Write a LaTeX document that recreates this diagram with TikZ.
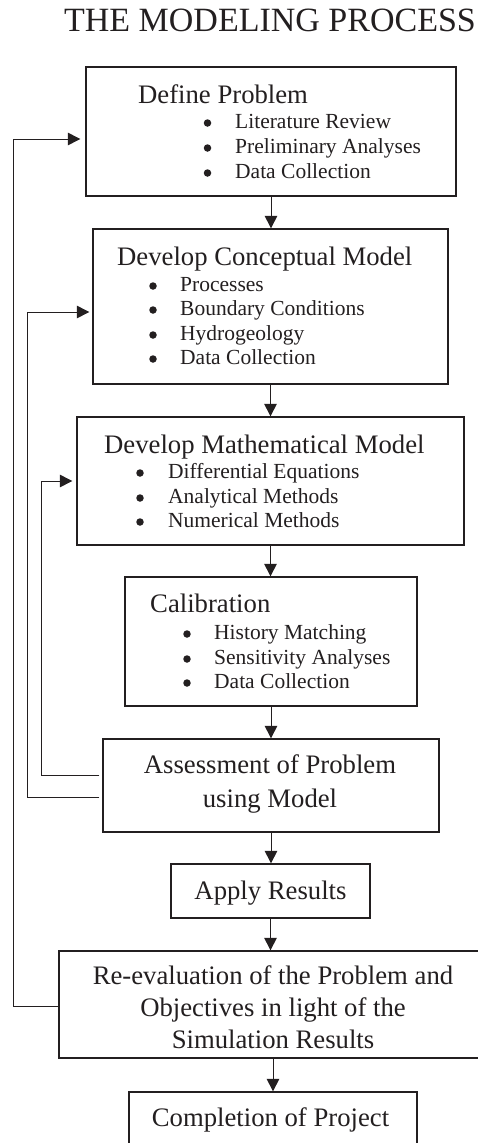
\documentclass[tikz,border=0pt]{standalone}
\usepackage{fontspec}
\setmainfont{Liberation Serif}
\usetikzlibrary{arrows.meta}
\definecolor{ink}{RGB}{35,31,32}
\begin{document}
\begin{tikzpicture}[x=1pt,y=-1pt,
  box/.style={draw=ink,line width=1.3pt,inner sep=0pt},
  conn/.style={draw=ink,line width=1pt},
  arr/.style={conn,-{Triangle[length=12.5pt,width=12.5pt]}},
  ttl/.style={font=\fontsize{34pt}{40pt}\selectfont,text=ink,inner sep=0pt,anchor=base},
  head/.style={font=\fontsize{26.7pt}{32pt}\selectfont,text=ink,inner sep=0pt,anchor=base west},
  headc/.style={font=\fontsize{26.7pt}{32pt}\selectfont,text=ink,inner sep=0pt,anchor=base},
  item/.style={font=\fontsize{21.5pt}{25pt}\selectfont,text=ink,inner sep=0pt,anchor=base west},
  bul/.style={circle,fill=ink,inner sep=0pt,minimum size=7.5pt,yshift=5pt}]
\useasboundingbox (0,0) rectangle (478,1143);
\clip (0,0) rectangle (478,1143);
\fill[white] (0,0) rectangle (478,1143);

\node[ttl] (title) at (270,31) {THE MODELING PROCESS};

% boxes
\node[box,minimum width=370pt,minimum height=129pt] (b1) at (271,131.5) {};
\node[box,minimum width=355pt,minimum height=155pt] (b2) at (270.5,306.5) {};
\node[box,minimum width=387pt,minimum height=128pt] (b3) at (270.5,481) {};
\node[box,minimum width=292pt,minimum height=129pt] (b4) at (271,641.5) {};
\node[box,minimum width=336pt,minimum height=93pt] (b5) at (271,785.5) {};
\node[box,minimum width=199pt,minimum height=54pt] (b6) at (270.5,891) {};
\node[box,minimum width=428pt,minimum height=107pt] (b7) at (273,1004.5) {};
\node[box,minimum width=288pt,minimum height=70pt] (b8) at (273,1127) {};

% box 1 text
\node[head] (h1) at (138,103) {Define Problem};
\node[bul] (d11) at (207.5,128) {};
\node[item] (t11) at (235,128) {Literature Review};
\node[bul] (d12) at (207.5,153) {};
\node[item] (t12) at (235,153) {Preliminary Analyses};
\node[bul] (d13) at (207.5,178) {};
\node[item] (t13) at (235,178) {Data Collection};

% box 2 text
\node[head] (h2) at (117,265) {Develop Conceptual Model};
\node[bul] (d21) at (153,291) {};
\node[item] (t21) at (180,291) {Processes};
\node[bul] (d22) at (153,315) {};
\node[item] (t22) at (180,315) {Boundary Conditions};
\node[bul] (d23) at (153,340) {};
\node[item] (t23) at (180,340) {Hydrogeology};
\node[bul] (d24) at (153,364) {};
\node[item] (t24) at (180,364) {Data Collection};

% box 3 text
\node[head] (h3) at (104,453) {Develop Mathematical Model};
\node[bul] (d31) at (140,478) {};
\node[item] (t31) at (168,478) {Differential Equations};
\node[bul] (d32) at (140,503) {};
\node[item] (t32) at (168,503) {Analytical Methods};
\node[bul] (d33) at (140,527) {};
\node[item] (t33) at (168,527) {Numerical Methods};

% box 4 text
\node[head] (h4) at (150,612) {Calibration};
\node[bul] (d41) at (187,639) {};
\node[item] (t41) at (214,639) {History Matching};
\node[bul] (d42) at (187,664) {};
\node[item] (t42) at (214,664) {Sensitivity Analyses};
\node[bul] (d43) at (187,688) {};
\node[item] (t43) at (214,688) {Data Collection};

% box 5-8 text
\node[headc] (t51) at (270,773) {Assessment of Problem};
\node[headc] (t52) at (270,807) {using Model};
\node[headc] (t6) at (270.5,899) {Apply Results};
\node[headc] (t71) at (273,984) {Re-evaluation of the Problem and};
\node[headc] (t72) at (273,1016) {Objectives in light of the};
\node[headc] (t73) at (273,1048) {Simulation Results};
\node[headc] (t8) at (270.5,1126) {Completion of Project};

% main flow arrows
\draw[arr] (b1.south) -- (b1.south |- b2.north);
\draw[arr] (b2.south) -- (b2.south |- b3.north);
\draw[arr] (b3.south) -- (b3.south |- b4.north);
\draw[arr] (b4.south) -- (b4.south |- b5.north);
\draw[arr] (b5.south) -- (b5.south |- b6.north);
\draw[arr] (b6.south) -- (b6.south |- b7.north);
\draw[arr] (b7.south) -- (b7.south |- b8.north);

% feedback loops
\coordinate (ka) at (13,139);
\coordinate (kb) at (27,312);
\coordinate (kc) at (41,481);
\draw[arr,shorten >=5pt] ([yshift=-1.5pt]b7.west) -| (ka) -- ([yshift=-7.5pt]b1.west);
\draw[arr,shorten <=3pt,shorten >=3pt] ([yshift=-11.5pt]b5.west) -| (kb) -- ([yshift=-5.5pt]b2.west);
\draw[arr,shorten <=3pt,shorten >=4pt] ([yshift=10.5pt]b5.west) -| (kc) -- (b3.west);
\end{tikzpicture}
\end{document}
